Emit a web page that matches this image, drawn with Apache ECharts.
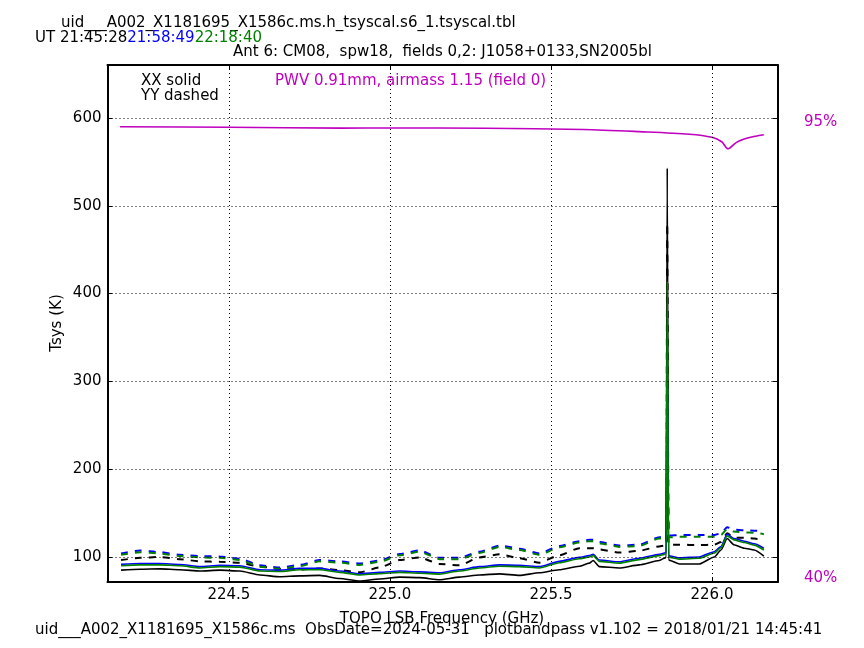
<!DOCTYPE html>
<html>
<head>
<meta charset="utf-8">
<script src="https://cdn.jsdelivr.net/npm/echarts@6/dist/echarts.min.js"></script>
<style>
  html, body { margin: 0; padding: 0; background: #fff; }
  #tsys-chart { width: 864px; height: 648px; }
</style>
</head>
<body>
<div id="tsys-chart"></div>
<script>
// frequency channels (GHz)
const freq = [224.165, 224.224, 224.286, 224.348, 224.410, 224.472, 224.534, 224.596, 224.658, 224.720,
  224.782, 224.844, 224.906, 224.968, 225.030, 225.092, 225.154, 225.216, 225.278, 225.340,
  225.402, 225.464, 225.526, 225.588, 225.619, 225.631, 225.650, 225.712, 225.774, 225.836,
  225.852, 225.858, 225.861, 225.865, 225.870, 225.899, 225.960, 226.007, 226.028, 226.047,
  226.068, 226.100, 226.131, 226.161];

// Tsys (K), XX = solid, YY = dashed; one colour per scan time
const xxBlack = [85, 86, 86.5, 85.5, 84, 85, 84, 79.5, 77.5, 78.5,
  79, 75.5, 72.5, 75, 77, 76.5, 74, 77, 79.5, 80.8,
  79, 82, 85.5, 89.5, 93, 96, 89, 87.5, 91, 96,
  98.5, 100, 543, 97, 96, 92, 92, 100, 108, 121,
  114, 110, 108, 101];
const yyBlack = [96.5, 99, 100, 97.5, 95, 94.5, 93.5, 89, 86.5, 85.5,
  87, 85, 82.5, 88, 96.5, 99.5, 92, 90.5, 99.5, 103,
  98.5, 93.5, 102, 110, 110, 110, 108.5, 105, 107, 112,
  113, 113.5, 480, 114, 114, 114, 113.5, 114, 117, 127,
  122, 122, 121, 119.5];
const xxBlue = [91.6, 92.5, 92.5, 91.5, 89, 90.5, 90, 85.5, 85, 87,
  87, 84, 80.8, 82.5, 84, 83, 82, 85.5, 89, 91,
  90.5, 89, 95, 99.5, 101.5, 103, 96.5, 94.5, 98.5, 103,
  104.5, 105.5, 320, 102, 101, 99, 100, 106, 112, 126,
  121, 118, 115, 110];
const yyBlue = [104, 107.5, 105.5, 102.5, 101, 100.5, 98, 90.5, 88, 91,
  96.5, 95, 92.5, 96, 103.5, 107.5, 99, 99, 106, 113,
  109.5, 104, 112.5, 118, 119.5, 119.5, 117, 113, 114, 122.5,
  123.5, 124, 300, 124.5, 124.5, 125, 125, 125, 127, 134,
  131, 130.5, 130, 129];
const xxGreen = [90, 91, 91, 90, 87.5, 89, 88.5, 84, 83.5, 85.5,
  85.5, 82.5, 79.5, 81, 82.5, 81.5, 80.5, 84, 87.5, 89.5,
  89, 87.5, 93.5, 98, 100, 101.5, 95, 93, 97, 101.5,
  103, 104, 414, 100.5, 99.5, 97.5, 98.5, 104.5, 110.5, 124,
  119.5, 116.5, 113.5, 108];
const yyGreen = [102.5, 105.5, 104, 101, 99.5, 99, 96.5, 89, 86.5, 89.5,
  95, 93.5, 91, 94.5, 102, 106, 97.5, 97.5, 104.5, 111.5,
  108, 102.5, 111, 116.5, 118, 118, 115.5, 111.5, 112.5, 121,
  122, 122, 380, 122.5, 122.5, 123, 123, 123, 125, 132,
  129, 128, 127.5, 126];

// atmospheric transmission curve, drawn in Tsys units
const pwvFreq = [224.162, 224.5, 224.85, 225.0, 225.3, 225.6, 225.774, 225.93, 226.0, 226.03,
  226.05, 226.075, 226.1, 226.13, 226.161];
const pwvTsys = [590, 589.5, 588.5, 588.7, 588.3, 587, 584.5, 581.5, 578, 573,
  565, 572, 576, 579, 581];

const xTicks = [224.5, 225.0, 225.5, 226.0];
const yTicks = [100, 200, 300, 400, 500, 600];

const FONT = "'DejaVu Sans', sans-serif";
const MAGENTA = '#bf00bf';

const pairs = (xs, ys) => xs.map((f, i) => [f, ys[i]]);

const chart = echarts.init(document.getElementById('tsys-chart'), null, { renderer: 'canvas' });

const axisLine = { show: true, onZero: false, lineStyle: { color: '#000', width: 2 } };
const xTick = { show: true, inside: true, length: 5, customValues: xTicks, lineStyle: { color: '#000', width: 1 } };
const yTick = { show: true, inside: true, length: 5, customValues: yTicks, lineStyle: { color: '#000', width: 1 } };

const tsysLine = (name, data, color, dashed) => ({
  name: name,
  type: 'line',
  data: data,
  showSymbol: false,
  smooth: 0.2,
  smoothMonotone: 'x',
  z: 3,
  lineStyle: { color: color, width: dashed ? 2 : 1.6, type: dashed ? [7, 7] : 'solid' },
});

const text = (x, y, str, extra) => ({
  type: 'text',
  x: x,
  y: y,
  silent: true,
  style: Object.assign({ text: str, fill: '#000', fontSize: 15, fontFamily: FONT, align: 'left', verticalAlign: 'middle' }, extra || {}),
});

const option = {
  animation: false,
  backgroundColor: '#fff',
  grid: { left: 107.5, right: 86.3, top: 65, bottom: 66 },
  xAxis: [
    {
      type: 'value', min: 224.123, max: 226.204, position: 'bottom',
      axisLine: axisLine, axisTick: xTick, splitLine: { show: false },
      axisLabel: { customValues: xTicks, formatter: (v) => v.toFixed(1), color: '#000', fontSize: 15, fontFamily: FONT, margin: 6 },
    },
    {
      type: 'value', min: 224.123, max: 226.204, position: 'top',
      axisLine: axisLine, axisTick: xTick, splitLine: { show: false }, axisLabel: { show: false },
    },
  ],
  yAxis: [
    {
      type: 'value', min: 71.5, max: 660.4, position: 'left',
      axisLine: axisLine, axisTick: yTick, splitLine: { show: false },
      axisLabel: { customValues: yTicks, color: '#000', fontSize: 15, fontFamily: FONT, margin: 6 },
    },
    {
      type: 'value', min: 71.5, max: 660.4, position: 'right',
      axisLine: axisLine, axisTick: yTick, splitLine: { show: false }, axisLabel: { show: false },
    },
  ],
  series: [
    {
      // dotted grid
      type: 'line', data: [], z: 1, silent: true,
      markLine: {
        silent: true, symbol: 'none', label: { show: false },
        lineStyle: { color: '#000', width: 1, type: [1, 3] },
        data: xTicks.map((v) => ({ xAxis: v })).concat(yTicks.map((v) => ({ yAxis: v }))),
      },
    },
    tsysLine('YY 21:45:28', pairs(freq, yyBlack), '#000000', true),
    tsysLine('YY 21:58:49', pairs(freq, yyBlue), '#0000ff', true),
    tsysLine('YY 22:18:40', pairs(freq, yyGreen), '#008000', true),
    tsysLine('XX 21:45:28', pairs(freq, xxBlack), '#000000', false),
    tsysLine('XX 21:58:49', pairs(freq, xxBlue), '#0000ff', false),
    tsysLine('XX 22:18:40', pairs(freq, xxGreen), '#008000', false),
    {
      name: 'PWV', type: 'line', data: pairs(pwvFreq, pwvTsys), showSymbol: false, smooth: 0.3, z: 3,
      lineStyle: { color: MAGENTA, width: 1.6 },
    },
  ],
  graphic: [
    text(61, 23, 'uid___A002_X1181695_X1586c.ms.h_tsyscal.s6_1.tsyscal.tbl'),
    text(35, 38, '{k|UT 21:45:28}{b|21:58:49}{g|22:18:40}', {
      rich: {
        k: { fill: '#000', fontSize: 15, fontFamily: FONT },
        b: { fill: '#0000ff', fontSize: 15, fontFamily: FONT },
        g: { fill: '#008000', fontSize: 15, fontFamily: FONT },
      },
    }),
    text(233, 52, 'Ant 6: CM08,  spw18,  fields 0,2: J1058+0133,SN2005bl'),
    text(141, 81, 'XX solid'),
    text(141, 96, 'YY dashed'),
    text(275, 81, 'PWV 0.91mm, airmass 1.15 (field 0)', { fill: MAGENTA }),
    text(804, 122, '95%', { fill: MAGENTA }),
    text(804, 578, '40%', { fill: MAGENTA }),
    text(442, 619, 'TOPO LSB Frequency (GHz)', { align: 'center' }),
    text(35, 630, 'uid___A002_X1181695_X1586c.ms  ObsDate=2024-05-31   plotbandpass v1.102 = 2018/01/21 14:45:41'),
    {
      type: 'text', x: 57, y: 323, rotation: Math.PI / 2, silent: true,
      style: { text: 'Tsys (K)', fill: '#000', fontSize: 15, fontFamily: FONT, align: 'center', verticalAlign: 'middle' },
    },
  ],
};

chart.setOption(option);
</script>
</body>
</html>
